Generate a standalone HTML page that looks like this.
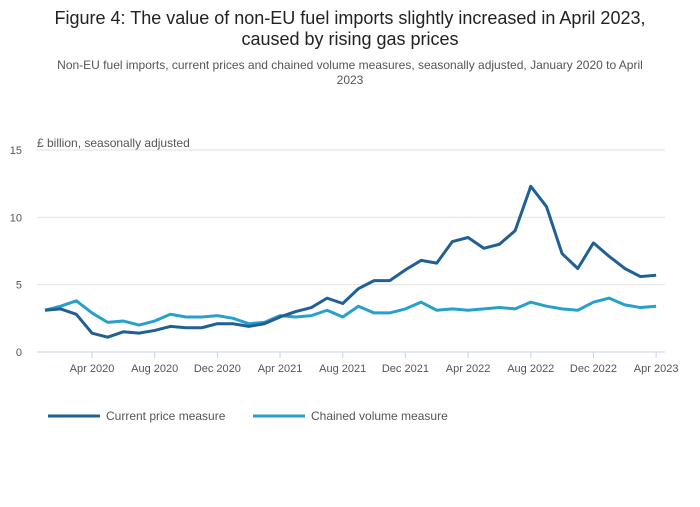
<!DOCTYPE html>
<html><head><meta charset="utf-8"><style>
body{margin:0;background:#fff;font-family:"Liberation Sans",sans-serif;}
svg text{font-family:"Liberation Sans",sans-serif;}
</style></head><body>
<svg width="700" height="502">
<text x="350" y="24" text-anchor="middle" font-size="18" fill="#222">Figure 4: The value of non-EU fuel imports slightly increased in April 2023,</text>
<text x="350" y="45" text-anchor="middle" font-size="18" fill="#222">caused by rising gas prices</text>
<text x="350" y="69" text-anchor="middle" font-size="12" fill="#555">Non-EU fuel imports, current prices and chained volume measures, seasonally adjusted, January 2020 to April</text>
<text x="350" y="84" text-anchor="middle" font-size="12" fill="#555">2023</text>
<text x="37" y="147" font-size="12" fill="#555">£ billion, seasonally adjusted</text>
<g id="grid"></g><g id="xax"></g><g id="lines"></g>
<g>
<line x1="48" y1="416" x2="100" y2="416" stroke="#206095" stroke-width="3"/>
<text x="106" y="420" font-size="12" fill="#555">Current price measure</text>
<line x1="253" y1="416" x2="305" y2="416" stroke="#27a0cc" stroke-width="3"/>
<text x="311" y="420" font-size="12" fill="#555">Chained volume measure</text>
</g>
</svg>
<script>
const current=[3.1,3.2,2.8,1.4,1.1,1.5,1.4,1.6,1.9,1.8,1.8,2.1,2.1,1.9,2.1,2.6,3.0,3.3,4.0,3.6,4.7,5.3,5.3,6.1,6.8,6.6,8.2,8.5,7.7,8.0,9.0,12.3,10.8,7.3,6.2,8.1,7.1,6.2,5.6,5.7];
const chained=[3.1,3.4,3.8,2.9,2.2,2.3,2.0,2.3,2.8,2.6,2.6,2.7,2.5,2.1,2.2,2.7,2.6,2.7,3.1,2.6,3.4,2.9,2.9,3.2,3.7,3.1,3.2,3.1,3.2,3.3,3.2,3.7,3.4,3.2,3.1,3.7,4.0,3.5,3.3,3.4];
const yTicks=[0,5,10,15];
const xTickIdx=[3,7,11,15,19,23,27,31,35,39];
const xTickLabels=["Apr 2020","Aug 2020","Dec 2020","Apr 2021","Aug 2021","Dec 2021","Apr 2022","Aug 2022","Dec 2022","Apr 2023"];
const NS="http://www.w3.org/2000/svg";
const X=i=>45+i*15.67, Y=v=>352-v*13.47;
function mk(t,a,p){const e=document.createElementNS(NS,t);for(const k in a)e.setAttribute(k,a[k]);p.appendChild(e);return e;}
const g=document.getElementById('grid'),xa=document.getElementById('xax'),ln=document.getElementById('lines');
yTicks.forEach(v=>{
 const l=mk('line',{x1:37,x2:665,y1:Y(v),y2:Y(v),stroke:v===0?'#c8d3e3':'#e2e2e2','stroke-width':1},g);
 
 
 const t=mk('text',{x:22,y:Y(v)+4,'text-anchor':'end','font-size':11,fill:'#555'},g);t.textContent=v;
 
 
});
xTickIdx.forEach((i,k)=>{
 mk('line',{x1:X(i),x2:X(i),y1:352,y2:358,stroke:'#c8d3e3'},xa);
 const t=mk('text',{x:X(i),y:372,'text-anchor':'middle','font-size':11,fill:'#555'},xa);t.textContent=xTickLabels[k];
 
 
});
[[chained,'#27a0cc','chained-volume-line'],[current,'#206095','current-price-line']].forEach(([d,c,n])=>{
 const p=mk('polyline',{points:d.map((v,i)=>X(i)+','+Y(v)).join(' '),fill:'none',stroke:c,'stroke-width':3,'stroke-linejoin':'round'},ln);
 
 
});
</script>
</body></html>
